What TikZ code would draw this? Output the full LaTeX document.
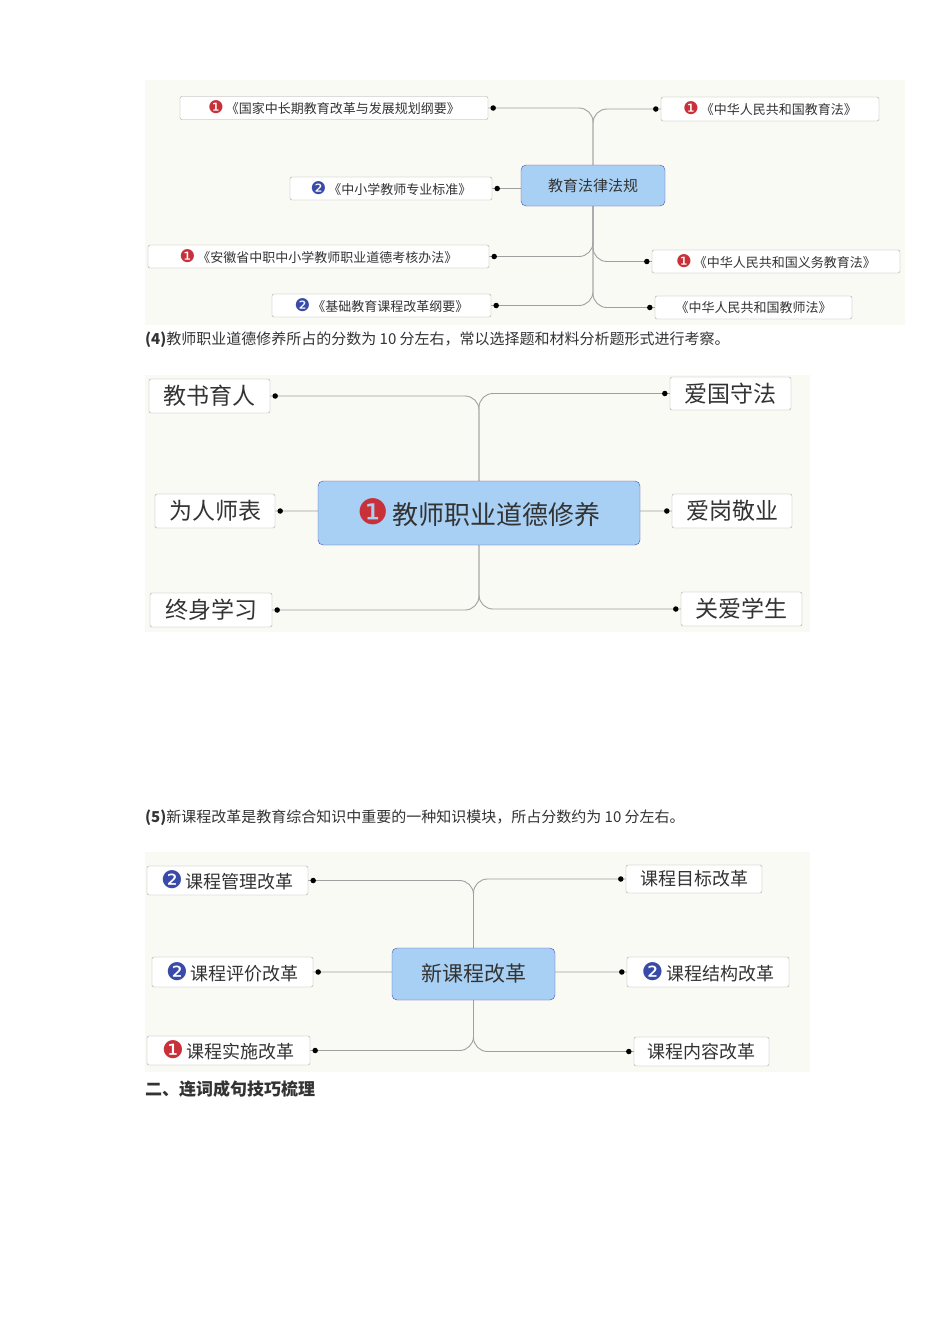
\documentclass[tikz,border=0pt]{standalone}
\usepackage{fontspec}
\setmainfont{Noto Sans CJK SC}
\newfontfamily\djv{DejaVu Sans}
\usetikzlibrary{calc}
\definecolor{bdr}{HTML}{C8303A}
\definecolor{bdb}{HTML}{3A4AA8}
\definecolor{bgc}{HTML}{FAFAF4}
\definecolor{cblue}{HTML}{A8D0F4}
\definecolor{txt}{HTML}{333333}
\newcommand\rb{{\djv\textcolor{bdr}{\scalebox{1.35}{❶}}}\,}
\newcommand\bb{{\djv\textcolor{bdb}{\scalebox{1.35}{❷}}}\,}
\pgfdeclarelayer{bgl}\pgfdeclarelayer{cnl}\pgfsetlayers{bgl,cnl,main}
\tikzset{
 box/.style={draw=gray!70,fill=white,rounded corners=2,inner sep=2,text=txt,anchor=center},
 ctr/.style={draw=gray!60!blue,fill=cblue,rounded corners=5,text=txt,anchor=center},
 conn/.style={draw=gray!75,line width=0.9,rounded corners=14},
 dotc/.style={fill=black,circle,inner sep=0,minimum size=5.5}
}
\newcommand\lbr[2]{\begin{pgfonlayer}{cnl}\draw[conn] (#1.center) |- (#2.east);\end{pgfonlayer}\node[dotc] at ([xshift=5]#2.east){};}
\newcommand\rbr[2]{\begin{pgfonlayer}{cnl}\draw[conn] (#1.center) |- (#2.west);\end{pgfonlayer}\node[dotc] at ([xshift=-5]#2.west){};}
\begin{document}
\begin{tikzpicture}[x=1pt,y=-1pt]
\useasboundingbox (0,0) rectangle (950,1344);
\begin{pgfonlayer}{bgl}
\fill[white] (0,0) rectangle (950,1344);
\fill[bgc] (145,80) rectangle (905,325);
\fill[bgc] (145,375) rectangle (810,632);
\fill[bgc] (145,852) rectangle (810,1072);
\end{pgfonlayer}
% map 1
\begin{scope}[font=\fontsize{13}{15}\selectfont]
\node[ctr,minimum width=144,minimum height=41,font=\fontsize{15}{17}\selectfont] (c1) at (593,185.5) {教育法律法规};
\node[box,minimum width=308,minimum height=23] (a1) at (334,108) {\rb《国家中长期教育改革与发展规划纲要》};
\node[box,minimum width=202,minimum height=23] (a2) at (391,188.5) {\bb《中小学教师专业标准》};
\node[box,minimum width=341,minimum height=23] (a3) at (318.5,256.5) {\rb《安徽省中职中小学教师职业道德考核办法》};
\node[box,minimum width=219,minimum height=23] (a4) at (381.5,305.5) {\bb《基础教育课程改革纲要》};
\node[box,minimum width=218,minimum height=24] (b1) at (770,109) {\rb《中华人民共和国教育法》};
\node[box,minimum width=248,minimum height=23] (b2) at (776,261.5) {\rb《中华人民共和国义务教育法》};
\node[box,minimum width=197,minimum height=23] (b3) at (753.5,307.5) {《中华人民共和国教师法》};
\lbr{c1}{a1}\lbr{c1}{a2}\lbr{c1}{a3}\lbr{c1}{a4}
\rbr{c1}{b1}\rbr{c1}{b2}\rbr{c1}{b3}
\end{scope}
\node[anchor=west,text=txt,font=\fontsize{15}{17}\selectfont,inner sep=0] (t4) at (145,340) {\textbf{(4)}教师职业道德修养所占的分数为 10 分左右，常以选择题和材料分析题形式进行考察。};
% map 2
\begin{scope}[font=\fontsize{23}{26}\selectfont]
\node[ctr,minimum width=322,minimum height=64,font=\fontsize{26}{30}\selectfont] (c2) at (479,513) {\rb 教师职业道德修养};
\node[box,minimum width=121,minimum height=34] (d1) at (209.5,396) {教书育人};
\node[box,minimum width=120,minimum height=34] (d2) at (215,511) {为人师表};
\node[box,minimum width=122,minimum height=34] (d3) at (211,610) {终身学习};
\node[box,minimum width=121,minimum height=33] (e1) at (730.5,393.5) {爱国守法};
\node[box,minimum width=120,minimum height=34] (e2) at (732,511) {爱岗敬业};
\node[box,minimum width=121,minimum height=34] (e3) at (741.5,609) {关爱学生};
\lbr{c2}{d1}\lbr{c2}{d2}\lbr{c2}{d3}
\rbr{c2}{e1}\rbr{c2}{e2}\rbr{c2}{e3}
\end{scope}
\node[anchor=west,text=txt,font=\fontsize{15}{17}\selectfont,inner sep=0] (t5) at (145,818) {\textbf{(5)}新课程改革是教育综合知识中重要的一种知识模块，所占分数约为 10 分左右。};
% map 3
\begin{scope}[font=\fontsize{18}{21}\selectfont]
\node[ctr,minimum width=163,minimum height=52,font=\fontsize{21}{24}\selectfont] (c3) at (473.5,974) {新课程改革};
\node[box,minimum width=161,minimum height=29] (f1) at (227.5,880.5) {\bb 课程管理改革};
\node[box,minimum width=161,minimum height=30] (f2) at (232.5,972) {\bb 课程评价改革};
\node[box,minimum width=163,minimum height=29] (f3) at (228.5,1050.5) {\rb 课程实施改革};
\node[box,minimum width=136,minimum height=28] (g1) at (694,879) {课程目标改革};
\node[box,minimum width=162,minimum height=30] (g2) at (708,972) {\bb 课程结构改革};
\node[box,minimum width=135,minimum height=29] (g3) at (701.5,1051.5) {课程内容改革};
\lbr{c3}{f1}\lbr{c3}{f2}\lbr{c3}{f3}
\rbr{c3}{g1}\rbr{c3}{g2}\rbr{c3}{g3}
\end{scope}
\node[anchor=west,text=txt,font=\fontsize{17}{19}\selectfont\bfseries,inner sep=0] (h) at (145,1089) {二、连词成句技巧梳理};
\end{tikzpicture}
\end{document}
